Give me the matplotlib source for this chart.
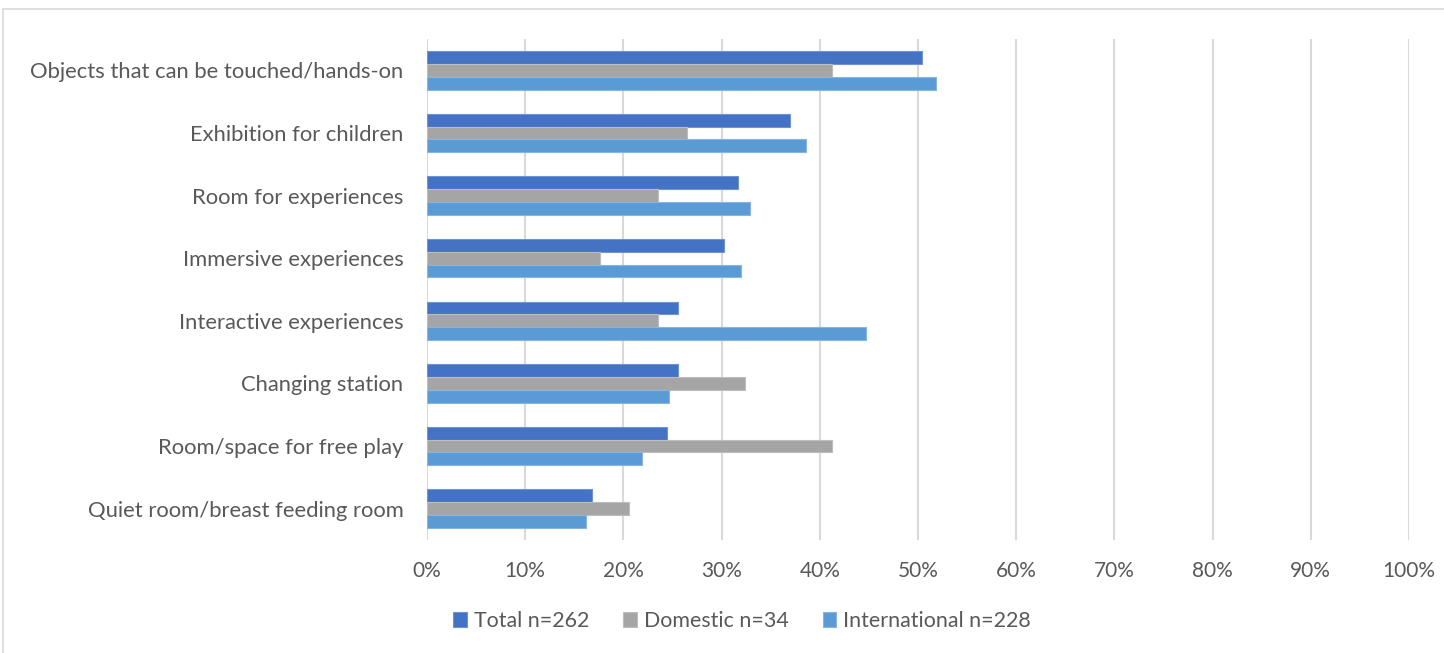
import numpy as np
import matplotlib.pyplot as plt
from matplotlib.patches import Rectangle
from matplotlib.ticker import FuncFormatter

plt.rcParams['font.family'] = ['Lato', 'DejaVu Sans']

categories = [
    "Objects that can be touched/hands-on",
    "Exhibition for children",
    "Room for experiences",
    "Immersive experiences",
    "Interactive experiences",
    "Changing station",
    "Room/space for free play",
    "Quiet room/breast feeding room",
]
total = [50.4, 37.0, 31.7, 30.2, 25.6, 25.6, 24.4, 16.8]
domestic = [41.2, 26.5, 23.5, 17.6, 23.5, 32.4, 41.2, 20.6]
international = [51.8, 38.6, 32.9, 32.0, 44.7, 24.6, 21.9, 16.2]
series_names = ["Total n=262", "Domestic n=34", "International n=228"]
colors = ["#4472C4", "#A5A5A5", "#5B9BD5"]
edges = ["#6F93D3", "#BDBDBD", "#85B5E0"]

text_col = "#595959"

fig = plt.figure(figsize=(14.44, 6.53), dpi=100)
ax = fig.add_axes([427 / 1444, 1 - 540 / 653, (1409 - 427) / 1444, (540 - 39) / 653])

y = np.arange(len(categories))
h = 0.205
for i, (vals, name) in enumerate(zip([total, domestic, international], series_names)):
    ax.barh(y + (i - 1) * h, vals, height=h, color=colors[i], edgecolor=edges[i],
            linewidth=0.8, label=name, zorder=3)

ax.set_xlim(0, 100)
ax.set_ylim(len(categories) - 0.5, -0.5)
ax.set_xticks(np.arange(0, 101, 10))
ax.xaxis.set_major_formatter(FuncFormatter(lambda v, p: f"{v:.0f}%"))
ax.set_yticks(y)
ax.set_yticklabels(categories)
ax.tick_params(axis='both', length=0, labelcolor=text_col)
ax.tick_params(axis='y', pad=17, labelsize=15.8)
ax.tick_params(axis='x', pad=15, labelsize=15)
ax.grid(axis='x', color="#D9D9D9", linewidth=1.5, zorder=0)
for s in ax.spines.values():
    s.set_visible(False)

leg = fig.legend(loc='center', bbox_to_anchor=(742 / 1444, 1 - 621 / 653), ncol=3,
                 frameon=False, fontsize=15.4, handlelength=0.65, handleheight=0.65,
                 handletextpad=0.3, columnspacing=1.6)
for t in leg.get_texts():
    t.set_color(text_col)

# outer chart border
fig.patches.append(Rectangle((3 / 1444, -0.1), 1.2, 1 - 9 / 653 + 0.1,
                             transform=fig.transFigure, fill=False,
                             edgecolor="#D9D9D9", linewidth=1.2))

fig.savefig("out.png", dpi=100)
